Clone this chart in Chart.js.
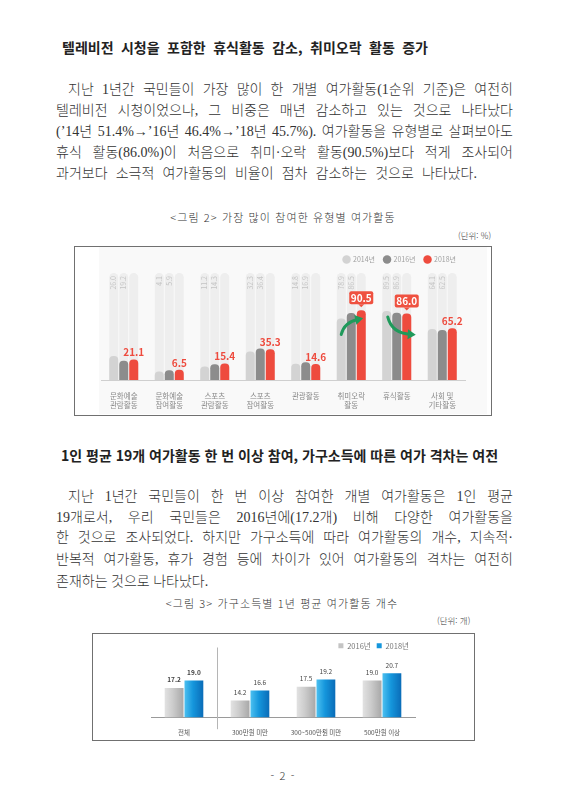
<!DOCTYPE html>
<html lang="ko">
<head>
    <meta charset="UTF-8">
    <title>여가활동 조사</title>
    <script src="https://cdn.jsdelivr.net/npm/chart.js"></script>
    <style>
        body { margin: 0; width: 566px; height: 800px; background: #fff; position: relative; overflow: hidden; color: #222; }
        .t { position: absolute; white-space: nowrap; }
        .just { text-align: justify; text-align-last: justify; }
        .head { font-family: 'Noto Sans CJK KR', sans-serif; font-weight: 700; font-size: 14px; height: 20px; line-height: 20px; }
        .body { font-family: 'Liberation Serif', 'Noto Sans CJK KR', serif; font-weight: 300; font-size: 14px; height: 20px; line-height: 20px; color: #333; }
        .cap { font-family: 'Noto Sans CJK KR', sans-serif; font-weight: 300; font-size: 11px; height: 14px; line-height: 14px; color: #333; letter-spacing: 1.1px; text-align: center; }
        .unit { font-family: 'Noto Sans CJK KR', sans-serif; font-weight: 300; font-size: 8.5px; height: 12px; line-height: 12px; color: #333; }
        .frame { position: absolute; border: 1px solid #707070; background: #fff; }
        canvas { position: absolute; }
    </style>
</head>
<body>
    <!-- section 1 -->
    <div class="t head just" style="left:62px; top:37px; width:366px;">텔레비전 시청을 포함한 휴식활동 감소, 취미오락 활동 증가</div>
    <div class="t body just" style="left:68px; top:80px; width:445px;">지난 1년간 국민들이 가장 많이 한 개별 여가활동(1순위 기준)은 여전히</div>
    <div class="t body just" style="left:56px; top:101px; width:457px;">텔레비전 시청이었으나, 그 비중은 매년 감소하고 있는 것으로 나타났다</div>
    <div class="t body just" style="left:56px; top:122px; width:457px;">(’14년 51.4%→’16년 46.4%→’18년 45.7%). 여가활동을 유형별로 살펴보아도</div>
    <div class="t body just" style="left:56px; top:143px; width:457px;">휴식 활동(86.0%)이 처음으로 취미·오락 활동(90.5%)보다 적게 조사되어</div>
    <div class="t body just" style="left:56px; top:164px; width:421px;">과거보다 소극적 여가활동의 비율이 점차 감소하는 것으로 나타났다.</div>
    <div class="t cap" style="left:143px; top:210px; width:280px;">&lt;그림 2&gt; 가장 많이 참여한 유형별 여가활동</div>
    <div class="t unit" style="left:458px; top:229px;">(단위: %)</div>
    <div class="frame" style="left:74px; top:246px; width:416px; height:168px;"></div>
    <canvas id="typeChart" width="388" height="167" style="left:99px; top:247px; background:#f9f9f9;"></canvas>

    <!-- section 2 -->
    <div class="t head just" style="left:61px; top:445px; width:426px;">1인 평균 19개 여가활동 한 번 이상 참여, 가구소득에 따른 여가 격차는 여전</div>
    <div class="t body just" style="left:68px; top:487px; width:445px;">지난 1년간 국민들이 한 번 이상 참여한 개별 여가활동은 1인 평균</div>
    <div class="t body just" style="left:56px; top:508px; width:457px;">19개로서, 우리 국민들은 2016년에(17.2개) 비해 다양한 여가활동을</div>
    <div class="t body just" style="left:56px; top:528px; width:457px;">한 것으로 조사되었다. 하지만 가구소득에 따라 여가활동의 개수, 지속적·</div>
    <div class="t body just" style="left:56px; top:550px; width:457px;">반복적 여가활동, 휴가 경험 등에 차이가 있어 여가활동의 격차는 여전히</div>
    <div class="t body" style="left:56px; top:572px;">존재하는 것으로 나타났다.</div>
    <div class="t cap" style="left:142px; top:596px; width:280px;">&lt;그림 3&gt; 가구소득별 1년 평균 여가활동 개수</div>
    <div class="t unit" style="left:437px; top:614px;">(단위: 개)</div>
    <div class="frame" style="left:92px; top:633px; width:381px; height:106px;"></div>
    <canvas id="incomeChart" width="380" height="105" style="left:93px; top:634px;"></canvas>

    <div class="t cap" style="left:243px; top:768px; width:80px;">- 2 -</div>

    <script>
        // 그림 2 data
        const typeLabels = [['문화예술', '관람활동'], ['문화예술', '참여활동'], ['스포츠', '관람활동'], ['스포츠', '참여활동'],
                            '관광활동', ['취미오락', '활동'], '휴식활동', ['사회 및', '기타활동']];
        const yearLabels = ['2014년', '2016년', '2018년'];
        const rate2014 = [26.0, 4.1, 11.2, 32.3, 14.8, 78.9, 89.5, 64.1];
        const rate2016 = [19.2, 5.9, 14.3, 36.4, 16.9, 86.5, 86.9, 62.5];
        const rate2018 = [21.1, 6.5, 15.4, 35.3, 14.6, 90.5, 86.0, 65.2];
        const calloutIdx = [5, 6];

        // 그림 3 data
        const incomeLabels = ['전체', '300만원 미만', '300~500만원 미만', '500만원 이상'];
        const incomeYears = ['2016년', '2018년'];
        const count2016 = [17.2, 14.2, 17.5, 19.0];
        const count2018 = [19.0, 16.6, 19.2, 20.7];

        const SANS = "'Noto Sans CJK KR', sans-serif";

        function roundTop(ctx, x, y, w, h, r) {
            ctx.beginPath();
            ctx.moveTo(x, y + h);
            ctx.lineTo(x, y + r);
            ctx.arcTo(x, y, x + r, y, r);
            ctx.arcTo(x + w, y, x + w, y + r, r);
            ctx.lineTo(x + w, y + h);
            ctx.closePath();
        }

        function arrow(ctx, sx, sy, cx, cy, ex, ey) {
            ctx.save();
            ctx.strokeStyle = '#1f9a5b';
            ctx.fillStyle = '#1f9a5b';
            ctx.lineWidth = 3;
            ctx.lineCap = 'round';
            ctx.beginPath();
            ctx.moveTo(sx, sy);
            ctx.quadraticCurveTo(cx, cy, ex, ey);
            ctx.stroke();
            const a = Math.atan2(ey - cy, ex - cx);
            ctx.translate(ex, ey);
            ctx.rotate(a);
            ctx.beginPath();
            ctx.moveTo(5, 0);
            ctx.lineTo(-3, -5);
            ctx.lineTo(-3, 5);
            ctx.closePath();
            ctx.fill();
            ctx.restore();
        }

        // background tracks behind every bar
        const trackPlugin = {
            id: 'tracks',
            beforeDatasetsDraw(chart) {
                const ctx = chart.ctx;
                const top = chart.chartArea.top;
                ctx.save();
                ctx.fillStyle = '#eeeeee';
                chart.data.datasets.forEach((ds, d) => {
                    chart.getDatasetMeta(d).data.forEach(el => {
                        const w = el.width;
                        roundTop(ctx, el.x - w / 2, top, w, el.base - top, w / 2);
                        ctx.fill();
                    });
                });
                ctx.restore();
            }
        };

        const typeLabelPlugin = {
            id: 'typeLabels',
            afterDatasetsDraw(chart) {
                const ctx = chart.ctx;
                const top = chart.chartArea.top;
                ctx.save();
                // rotated grey values for 2014 / 2016
                [0, 1].forEach(d => {
                    chart.getDatasetMeta(d).data.forEach((el, i) => {
                        ctx.save();
                        ctx.translate(el.x, top + 3);
                        ctx.rotate(-Math.PI / 2);
                        ctx.font = '7px ' + SANS;
                        ctx.fillStyle = '#c4c4c4';
                        ctx.textAlign = 'right';
                        ctx.textBaseline = 'middle';
                        ctx.fillText(chart.data.datasets[d].data[i].toFixed(1), 0, 0);
                        ctx.restore();
                    });
                });
                // arrows
                const m0 = chart.getDatasetMeta(0).data, m2 = chart.getDatasetMeta(2).data;
                let i = calloutIdx[0];
                arrow(ctx, m0[i].x, m0[i].y + 16, m0[i].x + 3, m2[i].y + 12, m2[i].x - 3, m2[i].y + 9);
                i = calloutIdx[1];
                arrow(ctx, m0[i].x + 1, m0[i].y + 6, m0[i].x + 5, m2[i].y + 20, m2[i].x + 4, m2[i].y + 21);
                // 2018 labels
                m2.forEach((el, k) => {
                    const txt = chart.data.datasets[2].data[k].toFixed(1);
                    ctx.font = 'bold 10px ' + SANS;
                    ctx.textAlign = 'center';
                    if (calloutIdx.includes(k)) {
                        const bw = 24, bh = 13, by = el.y - 6 - bh;
                        ctx.fillStyle = '#ef5140';
                        ctx.beginPath();
                        ctx.roundRect(el.x - bw / 2, by, bw, bh, 2);
                        ctx.fill();
                        ctx.beginPath();
                        ctx.moveTo(el.x - 3, by + bh);
                        ctx.lineTo(el.x + 3, by + bh);
                        ctx.lineTo(el.x, by + bh + 3);
                        ctx.fill();
                        ctx.fillStyle = '#fff';
                        ctx.textBaseline = 'middle';
                        ctx.fillText(txt, el.x, by + bh / 2 + 0.5);
                    } else {
                        ctx.fillStyle = '#ee4b3e';
                        ctx.textBaseline = 'bottom';
                        ctx.fillText(txt, el.x, el.y - 2);
                    }
                });
                ctx.restore();
            }
        };

        new Chart(document.getElementById('typeChart'), {
            type: 'bar',
            data: {
                labels: typeLabels,
                datasets: [
                    { label: yearLabels[0], data: rate2014, backgroundColor: '#d3d3d3' },
                    { label: yearLabels[1], data: rate2016, backgroundColor: '#8c8c8c' },
                    { label: yearLabels[2], data: rate2018, backgroundColor: '#ee4b3e' }
                ].map(ds => Object.assign(ds, {
                    base: -8,
                    borderRadius: { topLeft: 4, topRight: 4 },
                    borderSkipped: 'start',
                    categoryPercentage: 0.66,
                    barPercentage: 0.9
                }))
            },
            options: {
                responsive: false,
                animation: false,
                layout: { padding: { left: 2, right: 22, top: 0, bottom: 0 } },
                plugins: {
                    legend: {
                        align: 'end',
                        labels: {
                            usePointStyle: true, pointStyle: 'circle', boxWidth: 6, boxHeight: 6,
                            padding: 9, color: '#a0a0a0', font: { family: SANS, size: 7 }
                        }
                    },
                    tooltip: { enabled: false }
                },
                scales: {
                    x: {
                        grid: { display: false },
                        border: { display: true, color: '#cfcfcf' },
                        ticks: { color: '#8a8a8a', padding: 4, font: { family: SANS, size: 7.5 } }
                    },
                    y: { display: false, min: -8, max: 143 }
                }
            },
            plugins: [trackPlugin, typeLabelPlugin]
        });

        // 그림 3
        const gradientPlugin = {
            id: 'gradients',
            beforeDatasetsDraw(chart) {
                const ctx = chart.ctx;
                const stops = [['#e2e2e2', '#cbcbcb', '#a8a8a8'], ['#4cc0f0', '#1596dc', '#0a6cb8']];
                chart.data.datasets.forEach((ds, d) => {
                    chart.getDatasetMeta(d).data.forEach(el => {
                        const g = ctx.createLinearGradient(el.x - el.width / 2, 0, el.x + el.width / 2, 0);
                        g.addColorStop(0, stops[d][0]);
                        g.addColorStop(0.45, stops[d][1]);
                        g.addColorStop(1, stops[d][2]);
                        el.options = Object.assign({}, el.options, { backgroundColor: g });
                    });
                });
            },
            afterDatasetsDraw(chart) {
                const ctx = chart.ctx;
                const area = chart.chartArea;
                const x = chart.scales.x;
                ctx.save();
                // divider between 전체 and the income groups
                const dx = Math.round((x.getPixelForValue(0) + x.getPixelForValue(1)) / 2) + 0.5;
                ctx.strokeStyle = '#b5b5b5';
                ctx.lineWidth = 1;
                ctx.beginPath();
                ctx.moveTo(dx, area.top - 12);
                ctx.lineTo(dx, area.bottom + 12);
                ctx.stroke();
                // value labels
                chart.data.datasets.forEach((ds, d) => {
                    chart.getDatasetMeta(d).data.forEach((el, i) => {
                        ctx.font = (i === 0 ? 'bold ' : '') + '6.5px ' + SANS;
                        ctx.fillStyle = '#444';
                        ctx.textAlign = 'center';
                        ctx.textBaseline = 'bottom';
                        ctx.fillText(ds.data[i].toFixed(1), el.x, el.y - 5);
                    });
                });
                ctx.restore();
            }
        };

        new Chart(document.getElementById('incomeChart'), {
            type: 'bar',
            data: {
                labels: incomeLabels,
                datasets: [
                    { label: incomeYears[0], data: count2016, backgroundColor: '#c4c4c4' },
                    { label: incomeYears[1], data: count2018, backgroundColor: '#1596dc' }
                ].map(ds => Object.assign(ds, { categoryPercentage: 0.6, barPercentage: 0.95 }))
            },
            options: {
                responsive: false,
                animation: false,
                layout: { padding: { left: 58, right: 58, top: 2, bottom: 0 } },
                plugins: {
                    legend: {
                        align: 'end',
                        labels: {
                            boxWidth: 5, boxHeight: 5, padding: 6, color: '#777',
                            font: { family: SANS, size: 7.5 }
                        }
                    },
                    tooltip: { enabled: false }
                },
                scales: {
                    x: {
                        grid: { display: false },
                        border: { display: true, color: '#9a9a9a' },
                        ticks: { color: '#555', padding: 3, font: { family: SANS, size: 6.5 } }
                    },
                    y: { display: false, min: 10.2, max: 24 }
                }
            },
            plugins: [gradientPlugin]
        });
    </script>
</body>
</html>
